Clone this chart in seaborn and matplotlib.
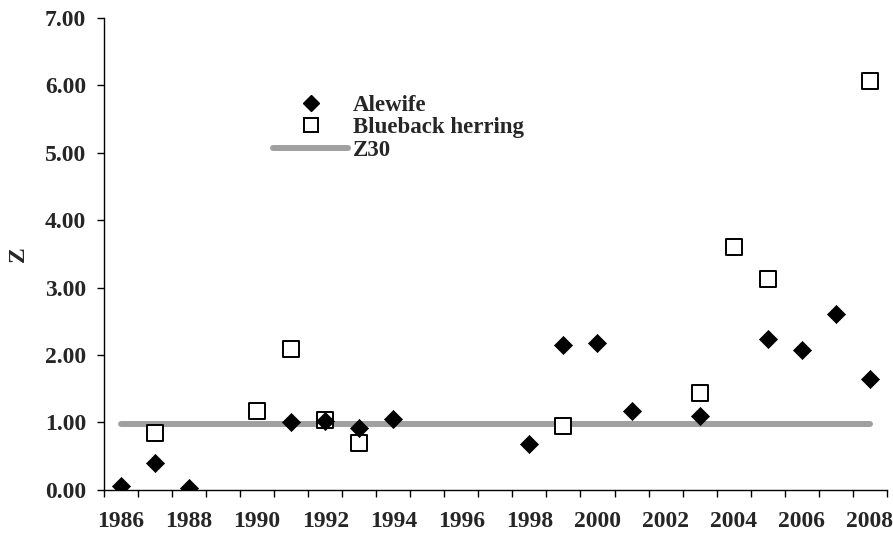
import matplotlib
matplotlib.use("Agg")
import matplotlib.pyplot as plt
import seaborn as sns
import pandas as pd
import numpy as np
from matplotlib.ticker import FixedLocator, FormatStrFormatter
from matplotlib.lines import Line2D

# ---- data ----
alewife_years = [1986, 1987, 1988, 1991, 1992, 1993, 1994, 1998, 1999, 2000, 2001, 2003, 2005, 2006, 2007, 2008]
alewife_z = [0.06, 0.40, 0.03, 1.00, 1.02, 0.92, 1.05, 0.68, 2.15, 2.17, 1.17, 1.09, 2.23, 2.07, 2.60, 1.64]
blueback_years = [1987, 1990, 1991, 1992, 1993, 1999, 2003, 2004, 2005, 2008]
blueback_z = [0.84, 1.17, 2.09, 1.03, 0.69, 0.95, 1.43, 3.60, 3.13, 6.07]
z30_years = [1986, 2008]
z30_value = [0.97, 0.97]
x_tick_labels = [1986, 1988, 1990, 1992, 1994, 1996, 1998, 2000, 2002, 2004, 2006, 2008]
y_ticks = [0, 1, 2, 3, 4, 5, 6, 7]

sns.set_style("ticks")
plt.rcParams['font.family'] = ['Liberation Serif', 'DejaVu Serif']
plt.rcParams['font.weight'] = 'bold'

fig = plt.figure(figsize=(8.93, 5.33), dpi=100)
ax = fig.add_axes([0.1165, 0.0813, 0.8765, 0.8849])

df_a = pd.DataFrame({"Year": alewife_years, "Z": alewife_z})
df_b = pd.DataFrame({"Year": blueback_years, "Z": blueback_z})
df_z = pd.DataFrame({"Year": z30_years, "Z": z30_value})

sns.lineplot(data=df_z, x="Year", y="Z", ax=ax, color="#A0A0A0", linewidth=4.3, zorder=1)
sns.scatterplot(data=df_a, x="Year", y="Z", ax=ax, marker="D", s=85, color="black",
                edgecolor="black", linewidth=0.5, zorder=3)
sns.scatterplot(data=df_b, x="Year", y="Z", ax=ax, marker="s", s=125, facecolor="white",
                edgecolor="black", linewidth=1.4, zorder=2)

ax.set_xlim(1985.5, 2008.5)
ax.set_ylim(0, 7)
ax.xaxis.set_major_locator(FixedLocator(x_tick_labels))
ax.xaxis.set_minor_locator(FixedLocator(np.arange(1985.5, 2009.0, 1.0)))
ax.set_xticklabels([str(v) for v in x_tick_labels], fontsize=17, fontweight='bold')
ax.tick_params(axis='x', which='major', length=0, pad=15.5)
ax.tick_params(axis='x', which='minor', length=5, width=1, direction='out', color='black')
ax.yaxis.set_major_locator(FixedLocator(y_ticks))
ax.yaxis.set_major_formatter(FormatStrFormatter('%.2f'))
ax.tick_params(axis='y', length=5, width=1, direction='out', color='black', labelsize=17, pad=8)
for lab in ax.get_yticklabels():
    lab.set_fontweight('bold')

ax.set_xlabel("")
ax.set_ylabel("Z", fontsize=17, fontweight='bold', labelpad=11.5)

for s in ['top', 'right']:
    ax.spines[s].set_visible(False)
for s in ['left', 'bottom']:
    ax.spines[s].set_linewidth(1)
    ax.spines[s].set_color('black')

handles = [
    Line2D([], [], marker='D', color='black', linestyle='None', markersize=8),
    Line2D([], [], marker='s', markerfacecolor='white', markeredgecolor='black', linestyle='None', markersize=10, markeredgewidth=1.4),
    Line2D([], [], color='#A0A0A0', linewidth=4.3),
]
leg = ax.legend(handles, ["Alewife", "Blueback herring", "Z30"], loc='upper left',
                bbox_to_anchor=(0.201, 0.862), frameon=False, fontsize=16.5,
                handlelength=3.3, handletextpad=0.2, labelspacing=0.08, borderpad=0)
for t in leg.get_texts():
    t.set_fontweight('bold')

fig.savefig("out.png", dpi=100)
